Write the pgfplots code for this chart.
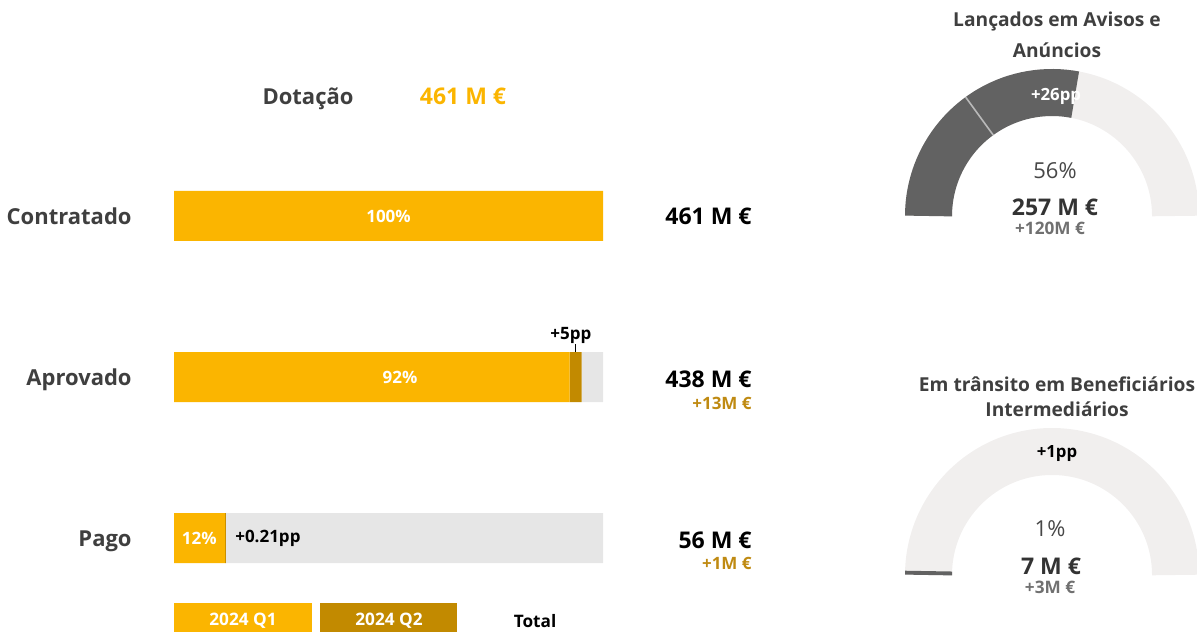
\documentclass[border=0pt]{standalone}
\usepackage{fontspec}
\setmainfont{Open Sans}
\usepackage{pgfplots}
\pgfplotsset{compat=1.18}

\definecolor{qone}{HTML}{FBB500}
\definecolor{qtwo}{HTML}{C28A00}
\definecolor{restgray}{HTML}{E6E6E6}
\definecolor{labgray}{HTML}{3F3F3F}
\definecolor{deltagold}{HTML}{BF8A12}
\definecolor{gdark}{HTML}{626262}
\definecolor{glight}{HTML}{F1EFEE}
\definecolor{gtext}{HTML}{333333}
\definecolor{gsub}{HTML}{707070}

\newcommand{\fs}[1]{\fontsize{#1}{#1}\selectfont}

% gauge values (percent of target): Q1 and Q2 increment
\def\gAone{30}\def\gAtwo{26}
\def\gBone{0}\def\gBtwo{1}

\begin{document}
\begin{tikzpicture}
\useasboundingbox (0,0) rectangle (598.5pt,315.5pt);

% stacked progress bars (1 px of the reference = 0.5pt)
\begin{axis}[
    at={(194.25pt,127pt)}, anchor=center,
    scale only axis, width=214.5pt, height=186pt,
    xbar stacked, bar width=25pt,
    xmin=0, xmax=100, ymin=-0.155, ymax=2.155, y dir=reverse,
    axis line style={draw=none}, major tick length=0pt,
    xtick=\empty, ytick={0,1,2},
    yticklabels={Contratado,Aprovado,Pago},
    yticklabel style={font=\bfseries\fs{11pt}, text=labgray, anchor=east, inner sep=0pt,
        text height=8.2pt, text depth=0pt, xshift=-21pt},
    clip=false
]
\addplot[fill=qone, draw=none] coordinates {(100,0) (92.2,1) (11.9,2)};
\addplot[fill=qtwo, draw=none] coordinates {(0,0) (2.8,1) (0.2,2)};
\addplot[fill=restgray, draw=none] coordinates {(0,0) (5.0,1) (87.9,2)};

\coordinate (lA) at (axis cs:50,0);
\coordinate (lB) at (axis cs:52.7,1);
\coordinate (lC) at (axis cs:5.9,2);
\coordinate (lD) at (axis cs:14.2,2);
\draw[black, line width=0.6pt] (axis cs:93.6,0.845) -- (axis cs:93.6,0.795);
\node[font=\bfseries\fs{8.5pt}] at (axis cs:92.5,0.745) {+5pp};
\end{axis}
\node[text=white, font=\bfseries\fs{8.5pt}] at (lA) {100\%};
\node[text=white, font=\bfseries\fs{8.5pt}] at (lB) {92\%};
\node[text=white, font=\bfseries\fs{8.5pt}] at (lC) {12\%};
\node[anchor=west, inner sep=0pt, font=\bfseries\fs{8.5pt}] at (lD) {+0.21pp};

% gauge 1
\begin{axis}[
    at={(526pt,207.5pt)}, anchor=south,
    scale only axis, width=150pt, height=75pt,
    xmin=-150, xmax=150, ymin=0, ymax=150,
    hide axis, clip=false
]
\addplot[draw=none] coordinates {(0,0)};
\draw[glight, line width=23.5pt] (axis cs:0,0) ++(180:61.75pt) arc[start angle=180, end angle=0, radius=61.75pt];
\draw[gdark, line width=23.5pt] (axis cs:0,0) ++(180:61.75pt) arc[start angle=180, end angle={180-1.8*(\gAone+\gAtwo)}, radius=61.75pt];
\draw[gray!55, line width=0.8pt] (axis cs:0,0) ++({180-1.8*\gAone}:50pt) -- ++({180-1.8*\gAone}:23.5pt);
\end{axis}

% gauge 2
\begin{axis}[
    at={(526pt,28pt)}, anchor=south,
    scale only axis, width=150pt, height=75pt,
    xmin=-150, xmax=150, ymin=0, ymax=150,
    hide axis, clip=false
]
\addplot[draw=none] coordinates {(0,0)};
\draw[glight, line width=23.5pt] (axis cs:0,0) ++(180:61.75pt) arc[start angle=180, end angle=0, radius=61.75pt];
\draw[gdark, line width=23.5pt] (axis cs:0,0) ++(180:61.75pt) arc[start angle=180, end angle={180-1.8*(\gBone+\gBtwo)}, radius=61.75pt];
\end{axis}

\begin{scope}[x=0.5pt,y=0.5pt]
% header
\node[font=\bfseries\fs{11pt}, text=labgray] at (308,532) {Dotação};
\node[font=\bfseries\fs{11.5pt}, text=qone] at (463,535) {461 M €};

% totals at the right of the bars
\node[anchor=east, inner sep=0pt, font=\bfseries\fs{11.5pt}] at (752,415) {461 M €};
\node[anchor=east, inner sep=0pt, font=\bfseries\fs{11.5pt}] at (752,252) {438 M €};
\node[anchor=east, inner sep=0pt, font=\bfseries\fs{8.5pt}, text=deltagold] at (752,228) {+13M €};
\node[anchor=east, inner sep=0pt, font=\bfseries\fs{11.5pt}] at (752,91) {56 M €};
\node[anchor=east, inner sep=0pt, font=\bfseries\fs{8.5pt}, text=deltagold] at (752,68) {+1M €};

% legend
\fill[qone] (174,-10) rectangle (312,28);
\node[text=white, font=\bfseries\fs{8.6pt}] at (243,10) {2024 Q1};
\fill[qtwo] (320,-10) rectangle (457,28);
\node[text=white, font=\bfseries\fs{8.6pt}] at (389,10) {2024 Q2};
\node[font=\bfseries\fs{8.6pt}] at (535,10) {Total};

% gauge 1 texts
\node[font=\bfseries\fs{9.6pt}, text=labgray] at (1057,609) {Lançados em Avisos e};
\node[font=\bfseries\fs{9.6pt}, text=labgray] at (1057,581) {Anúncios};
\node[text=white, font=\bfseries\fs{8.4pt}] at (1056,535) {+26pp};
\node[text=gtext!90, font=\fs{11pt}] at (1055,460) {56\%};
\node[text=gtext, font=\bfseries\fs{11.5pt}] at (1055,424) {257 M €};
\node[text=gsub, font=\bfseries\fs{8.6pt}] at (1050,403) {+120M €};

% gauge 2 texts
\node[font=\bfseries\fs{9.6pt}, text=labgray] at (1057,247) {Em trânsito em Beneficiários};
\node[font=\bfseries\fs{9.6pt}, text=labgray] at (1057,222) {Intermediários};
\node[font=\bfseries\fs{8.4pt}] at (1057,177) {+1pp};
\node[text=gtext!90, font=\fs{11pt}] at (1050,102) {1\%};
\node[text=gtext, font=\bfseries\fs{11.5pt}] at (1051,65) {7 M €};
\node[text=gsub, font=\bfseries\fs{8.6pt}] at (1050,44) {+3M €};
\end{scope}
\end{tikzpicture}
\end{document}
